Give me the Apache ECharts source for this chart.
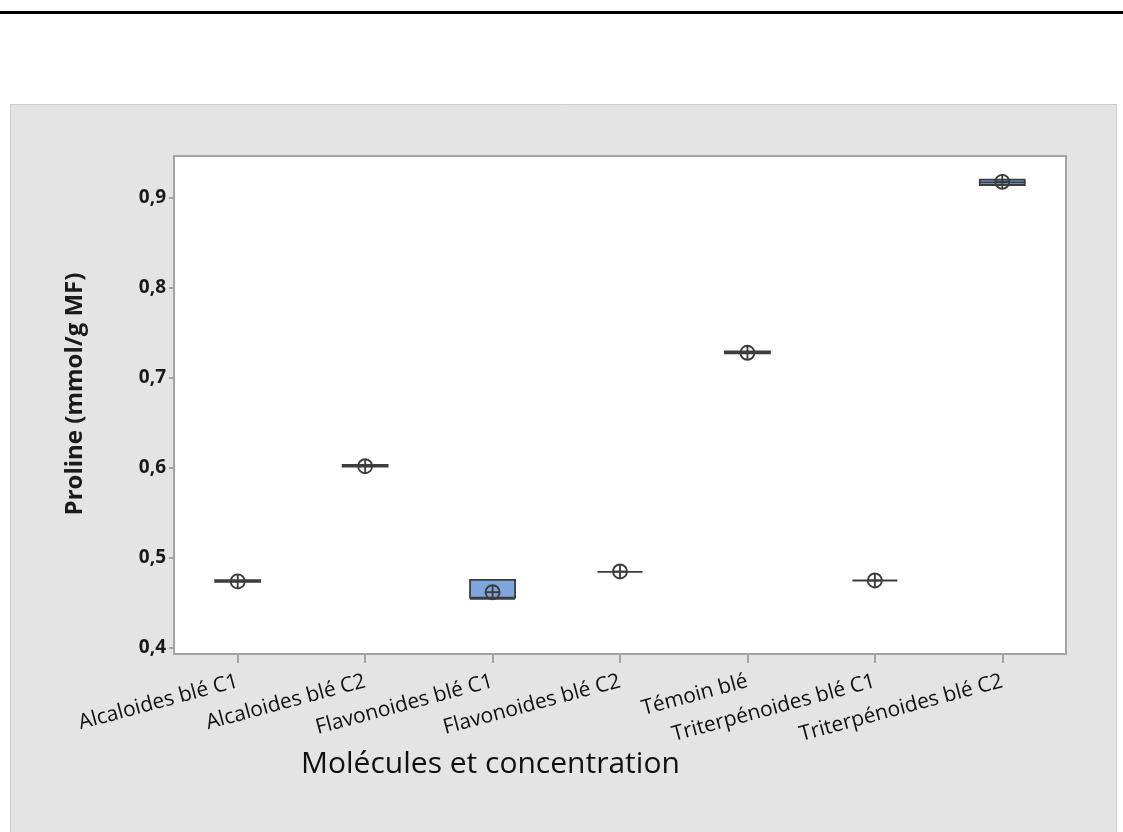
<!DOCTYPE html>
<html>
<head>
<meta charset="utf-8">
<script src="https://cdn.jsdelivr.net/npm/echarts@6/dist/echarts.min.js"></script>
<style>
  html, body { margin: 0; padding: 0; background: #ffffff; }
  #chart { width: 1123px; height: 832px; }
</style>
</head>
<body>
<div id="chart"></div>
<script>
// Groups on the horizontal axis
const categories = [
  'Alcaloides blé C1',
  'Alcaloides blé C2',
  'Flavonoides blé C1',
  'Flavonoides blé C2',
  'Témoin blé',
  'Triterpénoides blé C1',
  'Triterpénoides blé C2'
];

// Box statistics per group: [min, Q1, median, Q3, max]
const boxAlcC1  = [0.4735, 0.4735, 0.4745, 0.4755, 0.4755];
const boxAlcC2  = [0.6015, 0.6015, 0.6025, 0.6035, 0.6035];
const boxFlavC1 = [0.4545, 0.4560, 0.4560, 0.4756, 0.4756];
const boxFlavC2 = [0.4845, 0.4845, 0.4845, 0.4845, 0.4845];
const boxTemoin = [0.7275, 0.7275, 0.7285, 0.7295, 0.7295];
const boxTriC1  = [0.4750, 0.4750, 0.4750, 0.4750, 0.4750];
const boxTriC2  = [0.9145, 0.9145, 0.9175, 0.9205, 0.9205];

// Group means (circled-cross markers)
const means = [0.474, 0.602, 0.462, 0.485, 0.728, 0.475, 0.918];

// Y tick values
const yTicks = [0.4, 0.5, 0.6, 0.7, 0.8, 0.9];

const boxData = [boxAlcC1, boxAlcC2, boxFlavC1, boxFlavC2, boxTemoin, boxTriC1, boxTriC2];

const chart = echarts.init(document.getElementById('chart'), null, { renderer: 'canvas' });

const darkLine = '#3d3d3d';

chart.setOption({
  animation: false,
  backgroundColor: '#ffffff',
  graphic: [
    { type: 'rect', z: -100, shape: { x: 0, y: 11, width: 1123, height: 3 }, style: { fill: '#000000' } },
    { type: 'rect', z: -100, shape: { x: 10.5, y: 104.5, width: 1106, height: 740 },
      style: { fill: '#e4e4e4', stroke: '#cdcdcd', lineWidth: 1 } },
    { type: 'text', z: 10, left: 301, top: 749,
      style: { text: 'Molécules et concentration', fontSize: 30, fontFamily: 'Open Sans', fill: '#111111' } },
    { type: 'text', z: 10, x: 75, y: 394, rotation: Math.PI / 2,
      style: { text: 'Proline (mmol/g MF)', fontSize: 24, fontWeight: 'bold', fontFamily: 'Open Sans',
               fill: '#1a1a1a', align: 'center', verticalAlign: 'middle' } }
  ],
  grid: {
    left: 174, right: 57, top: 156, bottom: 178,
    show: true, backgroundColor: '#ffffff', borderColor: '#a3a3a3', borderWidth: 2
  },
  xAxis: {
    type: 'category',
    data: categories,
    boundaryGap: true,
    axisLine: { show: false },
    axisTick: { show: true, alignWithLabel: true, length: 9, lineStyle: { color: '#a3a3a3', width: 2 } },
    axisLabel: { rotate: 15, fontSize: 21, fontFamily: 'Open Sans', color: '#111111', margin: 27, interval: 0 },
    splitLine: { show: false }
  },
  yAxis: {
    type: 'value',
    min: 0.3933,
    max: 0.9467,
    axisLine: { show: false },
    axisTick: { show: true, length: 5, customValues: yTicks, lineStyle: { color: '#a3a3a3', width: 2 } },
    axisLabel: {
      customValues: yTicks,
      fontSize: 19, fontWeight: 'bold', fontFamily: 'Open Sans', color: '#1a1a1a', margin: 8,
      formatter: v => v.toFixed(1).replace('.', ',')
    },
    splitLine: { show: false }
  },
  series: [
    {
      type: 'boxplot',
      data: boxData,
      boxWidth: [45, 45],
      itemStyle: { color: '#7ea6dc', borderColor: darkLine, borderWidth: 1.8 },
      emphasis: { disabled: true }
    },
    {
      type: 'custom',
      data: means.map((m, i) => [i, m]),
      z: 5,
      renderItem: (params, api) => {
        const p = api.coord([api.value(0), api.value(1)]);
        const r = 7;
        const st = { stroke: darkLine, lineWidth: 1.9, fill: null };
        return {
          type: 'group',
          children: [
            { type: 'circle', shape: { cx: p[0], cy: p[1], r: r }, style: st },
            { type: 'line', shape: { x1: p[0] - r, y1: p[1], x2: p[0] + r, y2: p[1] }, style: st },
            { type: 'line', shape: { x1: p[0], y1: p[1] - r, x2: p[0], y2: p[1] + r }, style: st }
          ]
        };
      }
    }
  ]
});
</script>
</body>
</html>
